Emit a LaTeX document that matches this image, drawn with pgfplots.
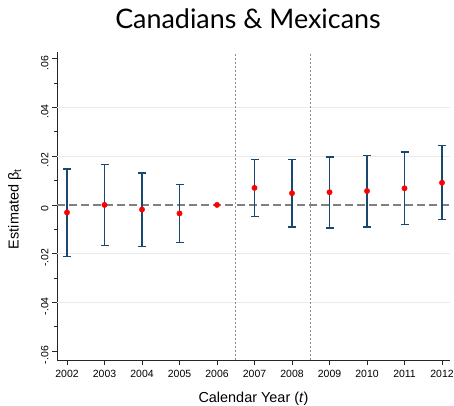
\documentclass[border=0pt]{standalone}
\usepackage{pgfplots}
\pgfplotsset{compat=1.18}
\usepackage{pgfplotstable}
\usepackage{fontspec}
\setmainfont{Liberation Sans}
\newfontfamily\latofont{Lato}
\definecolor{stnavy}{RGB}{26,71,111}
\definecolor{gridc}{RGB}{234,234,234}
\definecolor{zeroc}{RGB}{128,128,128}
\definecolor{vlinec}{RGB}{140,140,140}

\pgfplotstableread{
x y ep em
2002 -0.0031 0.0178 0.0180
2003 0.0000 0.0166 0.0166
2004 -0.0019 0.0151 0.0151
2005 -0.0035 0.0119 0.0119
2007 0.0070 0.0116 0.0117
2008 0.0048 0.0138 0.0139
2009 0.0052 0.0145 0.0146
2010 0.0057 0.0146 0.0148
2011 0.0068 0.0149 0.0149
2012 0.0091 0.0153 0.0150
}\coefs
\pgfplotstableread{
x y
2006 0.0000
}\basepoint

\begin{document}
\begin{tikzpicture}
\path[use as bounding box] (0,0) rectangle (454bp,406bp);
\node[font=\latofont\fontsize{27}{30}\selectfont] at (248bp,387bp) {Canadians \& Mexicans};
\begin{axis}[
  at={(57bp,46bp)}, anchor=south west,
  scale only axis, width=393bp, height=308bp,
  xmin=2001.733, xmax=2012.213,
  ymin=-0.0637, ymax=0.0628,
  axis x line*=bottom, axis y line*=left,
  axis line style={-, line width=0.8bp, black!85},
  tick align=outside,
  major tick length=5bp, minor tick length=3bp,
  tick style={line width=0.8bp, black!85},
  scaled y ticks=false, scaled x ticks=false,
  xtick={2002,2003,...,2012},
  xticklabels={2002,2003,2004,2005,2006,2007,2008,2009,2010,2011,2012},
  ytick={-0.06,-0.04,-0.02,0,0.02,0.04,0.06},
  yticklabels={-.06,-.04,-.02,0,.02,.04,.06},
  minor ytick={-0.05,-0.03,-0.01,0.01,0.03,0.05},
  extra y ticks={-0.04,-0.02,0.02,0.04},
  extra y tick labels={},
  extra y tick style={grid=major, major tick length=0pt, major grid style={gridc, line width=1.2bp}},
  /pgf/number format/assume math mode=true,
  ticklabel style={font=\fontsize{10.5}{12}\selectfont},
  xticklabel style={anchor=north, yshift=-2bp},
  yticklabel style={rotate=90, anchor=south, xshift=-4bp},
  xlabel={Calendar Year (\textit{t})},
  ylabel={Estimated β\textsubscript{t}},
  label style={font=\fontsize{14.5}{16}\selectfont},
  xlabel style={at={(axis description cs:0.5,-0.125)}, anchor=center},
  ylabel style={at={(axis description cs:-0.107,0.49)}, anchor=center, rotate=0},
  clip=false,
]
\addplot[zeroc, line width=1.3bp, dash pattern=on 8bp off 4bp] coordinates {(2001.733,0) (2012.213,0)};
\addplot[vlinec, line width=0.8bp, dash pattern=on 2bp off 2bp] coordinates {(2006.5,-0.0637) (2006.5,0.0628)};
\addplot[vlinec, line width=0.8bp, dash pattern=on 2bp off 2bp] coordinates {(2008.5,-0.0637) (2008.5,0.0628)};
\addplot[only marks, mark=*, mark size=0.1bp, mark options={draw=none, fill=none},
  error bars/.cd, y dir=both, y explicit, error mark=-,
  error bar style={stnavy, line width=1.5bp},
  error mark options={stnavy, line width=1.5bp, mark size=4bp, rotate=90}]
  table[x=x, y=y, y error plus=ep, y error minus=em] {\coefs};
\addplot[only marks, mark=*, mark size=2.7bp, mark options={fill=red, draw=red}] table[x=x, y=y] {\coefs};
\addplot[only marks, mark=*, mark size=2.7bp, mark options={fill=red, draw=red}] table[x=x, y=y] {\basepoint};
\end{axis}
\end{tikzpicture}
\end{document}
